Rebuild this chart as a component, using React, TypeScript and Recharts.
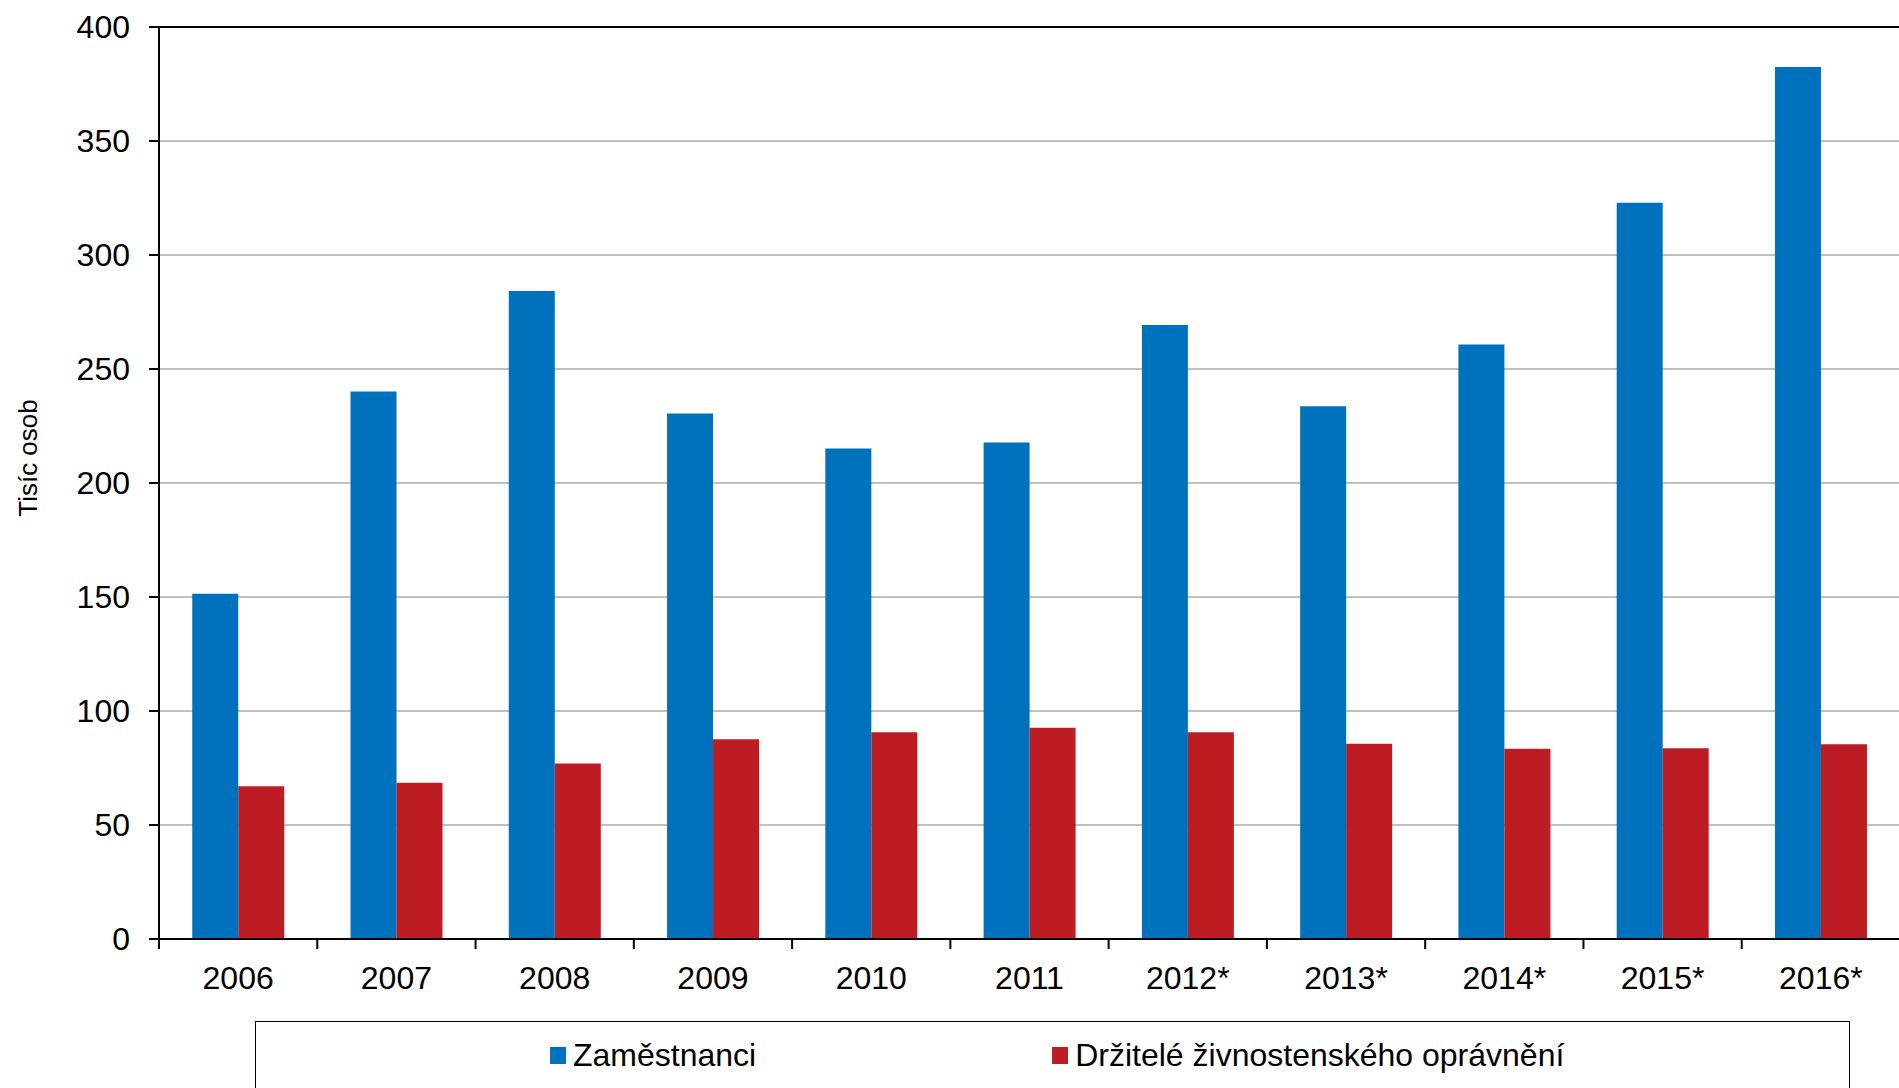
import React from "react";
import {
  BarChart,
  Bar,
  XAxis,
  YAxis,
  CartesianGrid,
  ReferenceLine,
  Legend,
  Label,
} from "recharts";

const years = ["2006", "2007", "2008", "2009", "2010", "2011", "2012*", "2013*", "2014*", "2015*", "2016*"];
const zamestnanci = [151.4, 240.1, 284.2, 230.5, 215.1, 217.8, 269.3, 233.7, 260.8, 322.9, 382.5];
const zivnostnici = [67.0, 68.5, 77.0, 87.6, 90.7, 92.7, 90.7, 85.6, 83.4, 83.7, 85.4];
const yTicks = [0, 50, 100, 150, 200, 250, 300, 350, 400];

const data = years.map((year, i) => ({
  year,
  zam: zamestnanci[i],
  ziv: zivnostnici[i],
}));

const COLORS = {
  zam: "#0071BC",
  ziv: "#BE1C23",
} as const;

const FONT = "'Liberation Sans', Arial, sans-serif";

// category label centred in the band, tick mark on the band's left edge
function YearTick(props: any) {
  const { x, y, payload } = props;
  const half = payload?.offset ?? 1741 / 11 / 2;
  return (
    <g>
      <line x1={x - half} x2={x - half} y1={y} y2={y + 10} stroke="#000" strokeWidth={2} />
      <text x={x} y={y + 50} textAnchor="middle" fill="#000" fontSize={32}>
        {payload.value}
      </text>
    </g>
  );
}

function LegendBox(props: any) {
  const items = props.payload ?? [];
  return (
    <div
      style={{
        width: 1595,
        height: 100,
        boxSizing: "border-box",
        border: "1.5px solid #000",
        display: "flex",
        justifyContent: "flex-start",
        alignItems: "flex-start",
        paddingTop: 15,
        paddingLeft: 294,
        gap: 296,
        fontFamily: FONT,
      }}
    >
      {items.map((it: any) => (
        <div key={it.value} style={{ display: "flex", alignItems: "center", gap: 7 }}>
          <span style={{ display: "inline-block", width: 16, height: 17, background: it.color }} />
          <span style={{ fontSize: 32, color: "#000", lineHeight: "36px", whiteSpace: "nowrap" }}>{it.value}</span>
        </div>
      ))}
    </div>
  );
}

export default function App() {
  return (
    <div
      style={{
        position: "fixed",
        left: 0,
        top: 0,
        width: 1899,
        height: 1088,
        overflow: "hidden",
        background: "#fff",
        fontFamily: FONT,
      }}
    >
      <BarChart
        width={1900}
        height={1100}
        data={data}
        margin={{ top: 27, right: 0, bottom: 100, left: 0 }}
        barCategoryGap="21%"
        barGap={0}
      >
        <CartesianGrid vertical={false} stroke="#C0C0C0" strokeWidth={2} />
        <XAxis
          dataKey="year"
          height={61}
          axisLine={{ stroke: "#000", strokeWidth: 2 }}
          tickLine={false}
          tickSize={0}
          tickMargin={0}
          interval={0}
          tick={<YearTick />}
        />
        <YAxis
          width={159}
          domain={[0, 400]}
          ticks={yTicks}
          interval={0}
          axisLine={{ stroke: "#000", strokeWidth: 2 }}
          tickLine={{ stroke: "#000", strokeWidth: 2 }}
          tickSize={10}
          tickMargin={19}
          tick={{ fill: "#000", fontSize: 32 }}
        >
          <Label
            content={(p: any) => {
              const vb = p.viewBox || { x: 0, y: 27, height: 912 };
              const cx = vb.x + 28;
              const cy = vb.y + vb.height / 2 - 25;
              return (
                <text
                  x={cx}
                  y={cy}
                  transform={`rotate(-90, ${cx}, ${cy})`}
                  textAnchor="middle"
                  dominantBaseline="central"
                  fontSize={26}
                  fill="#000"
                >
                  Tisíc osob
                </text>
              );
            }}
          />
        </YAxis>
        <ReferenceLine y={400} stroke="#000" strokeWidth={2} />
        <Bar dataKey="zam" name="Zaměstnanci" fill={COLORS.zam} isAnimationActive={false} />
        <Bar dataKey="ziv" name="Držitelé živnostenského oprávnění" fill={COLORS.ziv} isAnimationActive={false} />
        <Legend
          layout="horizontal"
          verticalAlign="middle"
          align="center"
          itemSorter="dataKey"
          content={<LegendBox />}
          wrapperStyle={{ position: "absolute", left: 255, top: 1021, width: 1595, height: 100 }}
        />
      </BarChart>
    </div>
  );
}
